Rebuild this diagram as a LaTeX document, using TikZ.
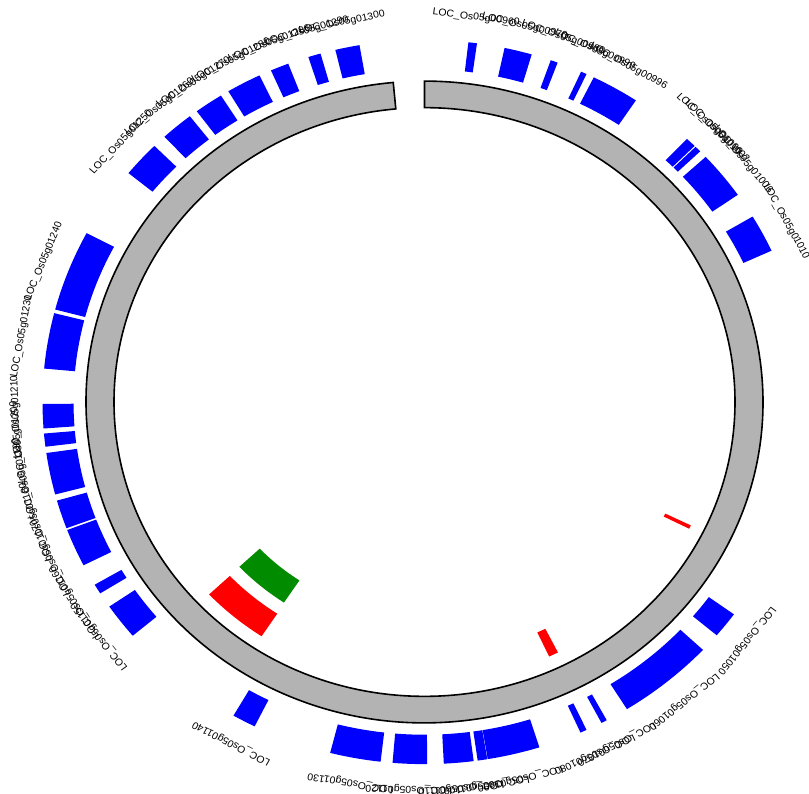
\documentclass[tikz,border=0pt]{standalone}
\usepackage{fontspec}
\setmainfont{Liberation Sans}
\definecolor{ringgray}{RGB}{179,179,179}
\definecolor{gblue}{RGB}{0,0,255}
\definecolor{gred}{RGB}{255,0,0}
\definecolor{ggreen}{RGB}{0,139,0}
\newcommand\gsec[5]{%
  \pgfmathsetmacro\pa{90-(#4)}\pgfmathsetmacro\pb{90-(#5)}%
  \path[#1] (\pa:#2) arc[start angle=\pa, end angle=\pb, radius=#2]
    -- (\pb:#3) arc[start angle=\pb, end angle=\pa, radius=#3] -- cycle;}
\newcommand\gene[2]{\gsec{genebox}{351}{382}{#1}{#2}}
\newcommand\glab[3]{%
  \pgfmathsetmacro\pc{90-(#2)}%
  \node[lab, rotate=-#2] (#1) at (\pc:406) {LOC\_Os05g#3};}
\begin{document}
\begin{tikzpicture}[x=1pt,y=1pt,
  genebox/.style={fill=gblue},
  ringbox/.style={fill=ringgray, draw=black, line width=1.6pt},
  redbox/.style={fill=gred},
  greenbox/.style={fill=ggreen},
  lab/.style={font=\fontsize{10.5}{12}\selectfont, anchor=base, inner sep=0pt, transform shape}]
\useasboundingbox (0,0) rectangle (809,793);
\begin{scope}[shift={(424.5,391)}, yscale=0.948]
% ring
\gsec{ringbox}{310.5}{338.5}{0}{354.7}
% genes
\gene{6.6}{7.9}
\gene{12.1}{16.3}
\gene{19.3}{20.4}
\gene{24.2}{25.1}
\gene{26.3}{33.6}
\gene{43.4}{45.0}
\gene{45.2}{46.2}
\gene{47.4}{55.1}
\gene{59.2}{65.3}
\gene{125.9}{130.1}
\gene{133.2}{148.0}
\gene{151.5}{152.4}
\gene{154.9}{155.9}
\gene{162.5}{170.47}
\gene{170.53}{172.0}
\gene{172.6}{177.1}
\gene{179.6}{184.8}
\gene{186.6}{194.3}
\gene{206.4}{210.0}
\gene{229.8}{235.6}
\gene{238.1}{239.7}
\gene{243.2}{249.3}
\gene{249.6}{254.2}
\gene{255.2}{261.9}
\gene{262.9}{265.0}
\gene{265.8}{269.7}
\gene{275.3}{284.2}
\gene{284.8}{297.8}
\gene{309.2}{315.0}
\gene{317.1}{322.1}
\gene{323.4}{327.8}
\gene{329.1}{334.4}
\gene{336.3}{339.1}
\gene{342.3}{344.2}
\gene{346.5}{350.2}
% inner tracks
\gsec{greenbox}{226}{254}{213.6}{226.8}
\gsec{redbox}{267.5}{296}{213.4}{226.7}
\gsec{redbox}{268}{296}{153.2}{155.1}
\gsec{redbox}{268}{296.5}{116.05}{116.8}
% labels
\glab{l1}{7.25}{00960}
\glab{l2}{14.2}{00970}
\glab{l3}{19.85}{00980}
\glab{l4}{24.65}{00990}
\glab{l5}{29.95}{00996}
\glab{l6}{44.2}{01000}
\glab{l7}{45.7}{01002}
\glab{l8}{51.25}{01006}
\glab{l9}{62.25}{01010}
\glab{l10}{128}{01050}
\glab{l11}{140.6}{01060}
\glab{l12}{151.95}{01070}
\glab{l13}{155.4}{01080}
\glab{l14}{166.45}{01090}
\glab{l15}{171.25}{01100}
\glab{l16}{174.85}{01110}
\glab{l17}{182.2}{01120}
\glab{l18}{190.45}{01130}
\glab{l19}{208.2}{01140}
\glab{l20}{232.7}{01150}
\glab{l21}{238.9}{01160}
\glab{l22}{246.25}{01170}
\glab{l23}{251.9}{01180}
\glab{l24}{258.55}{01190}
\glab{l25}{263.95}{01200}
\glab{l26}{267.75}{01210}
\glab{l27}{279.75}{01230}
\glab{l28}{291.3}{01240}
\glab{l29}{312.1}{01250}
\glab{l30}{319.6}{01260}
\glab{l31}{325.6}{01270}
\glab{l32}{331.75}{01280}
\glab{l33}{337.7}{01286}
\glab{l34}{343.25}{01290}
\glab{l35}{348.35}{01300}
\end{scope}
\end{tikzpicture}
\end{document}
